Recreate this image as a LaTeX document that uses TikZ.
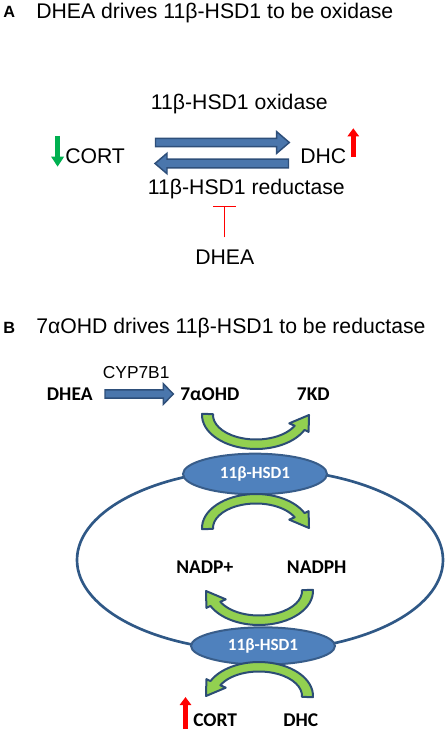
\documentclass[tikz,border=0pt]{standalone}
\usepackage{fontspec}
\setmainfont{Liberation Sans}
\newfontfamily\calib{Carlito}
\usetikzlibrary{shapes.geometric,arrows.meta}
\definecolor{arrblue}{HTML}{4A76AC}
\definecolor{arredge}{HTML}{2E4F7A}
\definecolor{enzfill}{HTML}{4F81BD}
\definecolor{enzedge}{HTML}{385D8A}
\definecolor{loopc}{HTML}{2F5886}
\definecolor{lgreen}{HTML}{92D050}
\definecolor{gedge}{HTML}{2C4D75}
\definecolor{dgreen}{HTML}{00B050}
\newcommand{\blockarrow}[5]{%
  \path[blockarr] ([shift={(0,-#4)}]#1) -- ([shift={(#3,-#4)}]#2) -- ([shift={(#3,-#5)}]#2) -- (#2)
    -- ([shift={(#3,#5)}]#2) -- ([shift={(#3,#4)}]#2) -- ([shift={(0,#4)}]#1) -- cycle;}
\tikzset{
  txt/.style={anchor=base west, inner sep=0, font=\fontsize{15.9}{18}\selectfont},
  panellbl/.style={anchor=base west, inner sep=0, font=\fontsize{12.2}{14}\selectfont\bfseries},
  smalltxt/.style={anchor=base west, inner sep=0, font=\fontsize{13}{15}\selectfont},
  btxt/.style={anchor=base west, inner sep=0, font=\calib\bfseries\fontsize{14.6}{17}\selectfont},
  enz/.style={ellipse, fill=enzfill, draw=enzedge, line width=1.5pt, inner sep=0,
    text=white, font=\calib\bfseries\fontsize{12.8}{14}\selectfont},
  blockarr/.style={fill=arrblue, draw=arredge, line width=1.1pt, line join=miter},
  curv/.style={fill=lgreen, draw=gedge, line width=1.5pt, line join=round},
  loopline/.style={draw=loopc, line width=2pt},
  upred/.style={draw=red, line width=3.9pt, -{Triangle[width=8.4pt,length=6pt]}},
  downgreen/.style={draw=dgreen, line width=3.9pt, -{Triangle[width=9.2pt,length=7.5pt]}},
  inhibit/.style={draw=red, line width=1pt, -{Bar[width=17.5pt]}},
  curvarr/.pic={
    \path[curv] (182:54 and 34) arc[start angle=182, end angle=26, x radius=54, y radius=34]
      -- (26:58.5 and 38.5) -- (53,0) -- (26:37 and 19) -- (26:43 and 24.5)
      arc[start angle=26, end angle=182, x radius=43, y radius=24.5] -- cycle;
  }
}
\begin{document}
\begin{tikzpicture}[x=0.75pt, y=-0.75pt]
\useasboundingbox (0,0) rectangle (447,730);
% ---------- Panel A ----------
\node[panellbl] (lblA) at (3,17.3) {A};
\node[txt] (titleA) at (36,18.3) {DHEA drives 11β-HSD1 to be oxidase};
\node[txt] (oxA) at (150.7,110) {11β-HSD1 oxidase};
\node[txt] (cortA) at (65,163.3) {CORT};
\node[txt] (dhcA) at (300,163.3) {DHC};
\node[txt] (redA) at (147.7,195) {11β-HSD1 reductase};
\node[txt] (dheaA) at (195,265) {DHEA};
\coordinate (oxS) at (155.5,142.5);
\coordinate (oxE) at (289.3,142.5);
\coordinate (reS) at (288.5,163.5);
\coordinate (reE) at (155,163.5);
\blockarrow{oxS}{oxE}{-12.6}{4.2}{10.8}
\blockarrow{reS}{reE}{12}{4.4}{10.2}
\coordinate (gdS) at (57.6,136);
\coordinate (gdE) at (57.6,166.7);
\draw[downgreen] (gdS) -- (gdE);
\coordinate (ruS) at (353.3,157);
\coordinate (ruE) at (353.3,128.3);
\draw[upred] (ruS) -- (ruE);
\coordinate (inhS) at (224.7,237.3);
\coordinate (inhE) at (224.7,205.7);
\draw[inhibit] (inhS) -- (inhE);
% ---------- Panel B ----------
\node[panellbl] (lblB) at (3,333.3) {B};
\node[txt] (titleB) at (36,334) {7αOHD drives 11β-HSD1 to be reductase};
\node[smalltxt] (cyp) at (102.7,378.3) {CYP7B1};
\node[btxt] (dheaB) at (46.7,400.7) {DHEA};
\node[btxt] (ohd) at (180,400.7) {7αOHD};
\node[btxt] (kd) at (296.7,400.7) {7KD};
\node[btxt] (nadp) at (176,573.3) {NADP+};
\node[btxt] (nadph) at (286.7,573.3) {NADPH};
\node[btxt] (cortB) at (193,726.7) {CORT};
\node[btxt] (dhcB) at (283,726.7) {DHC};
\coordinate (cypS) at (105,394);
\coordinate (cypE) at (173.3,394);
\blockarrow{cypS}{cypE}{-10}{4.2}{10.3}
% big loop
\draw[loopline] (260,560) ellipse[x radius=183, y radius=91];
% enzymes
\node[enz, minimum width=108pt, minimum height=30.5pt] (enz1) at (255,474) {11β-HSD1};
\node[enz, minimum width=108pt, minimum height=28pt] (enz2) at (263,646) {11β-HSD1};
% green curved arrows
\pic (g1) at (256,415) {curvarr};
\pic[yscale=-1] (g2) at (256,528) {curvarr};
\pic[xscale=-1] (g3) at (259,591) {curvarr};
\pic[xscale=-1, yscale=-1] (g4) at (259,696) {curvarr};
% red up arrow B
\coordinate (rbS) at (185.5,728.5);
\coordinate (rbE) at (185.5,697);
\draw[upred] (rbS) -- (rbE);
\end{tikzpicture}
\end{document}
